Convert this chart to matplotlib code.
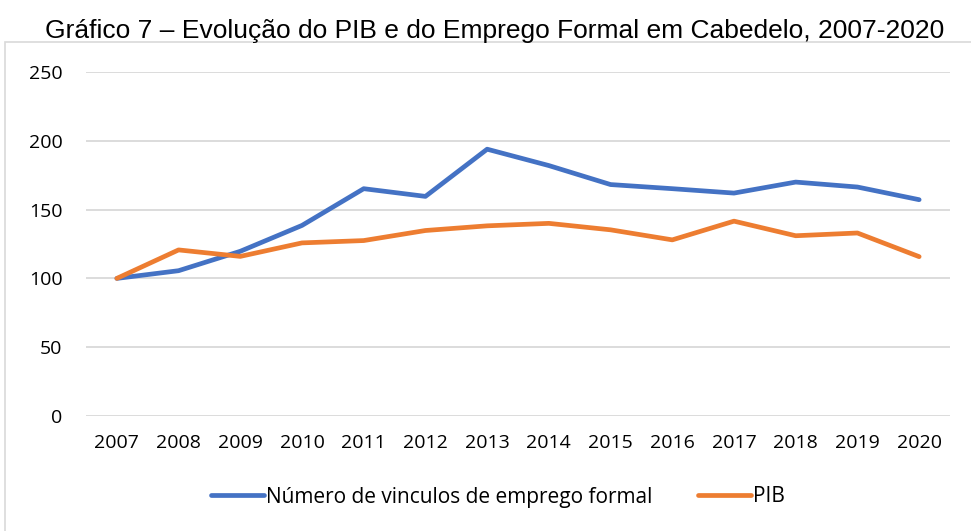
import matplotlib
matplotlib.use("Agg")
import matplotlib.pyplot as plt
from matplotlib.patches import Rectangle

years = ["2007", "2008", "2009", "2010", "2011", "2012", "2013",
         "2014", "2015", "2016", "2017", "2018", "2019", "2020"]
emprego = [100, 105.6, 119.7, 138.5, 165.2, 159.6, 193.9,
           182, 168.2, 165.2, 162, 170, 166.4, 157.2]
pib = [100, 120.7, 116, 125.8, 127.5, 134.8, 138.2,
       140, 135.3, 128, 141.6, 131, 133, 115.8]
yticks = [0, 50, 100, 150, 200, 250]
title = "Gráfico 7 – Evolução do PIB e do Emprego Formal em Cabedelo, 2007-2020"
labels = ["Número de vinculos de emprego formal", "PIB"]

W, H = 971, 531
fig = plt.figure(figsize=(W / 100, H / 100), dpi=100)
fig.patch.set_facecolor("white")

# chart border (only left/top visible in the crop)
fig.add_artist(Rectangle((5 / W, -0.05), 1.1, (H - 41.5) / H + 0.05,
                         transform=fig.transFigure, fill=False,
                         edgecolor="#D9D9D9", lw=1.2))

fig.text(0.5 * (42 + 948) / W, (H - 38) / H, title, ha="center", va="baseline",
         fontsize=19, family="Liberation Sans", color="black")

ax = fig.add_axes([86 / W, (H - 416) / H, (950 - 86) / W, (416 - 72) / H])
x = list(range(len(years)))
l1, = ax.plot(x, emprego, color="#4472C4", lw=3.4, solid_capstyle="round",
              solid_joinstyle="round")
l2, = ax.plot(x, pib, color="#ED7D31", lw=3.4, solid_capstyle="round",
              solid_joinstyle="round")
ax.set_xlim(-0.5, len(years) - 0.5)
ax.set_ylim(0, 250)
ax.set_yticks(yticks)
ax.set_yticklabels([str(v) for v in yticks])
ax.set_xticks(x)
ax.set_xticklabels(years)
ax.grid(axis="y", color="#D9D9D9", lw=1.3)
ax.set_axisbelow(True)
for s in ax.spines.values():
    s.set_visible(False)
ax.tick_params(axis="both", length=0, labelsize=14, colors="black")
ax.tick_params(axis="y", pad=17)
ax.tick_params(axis="x", pad=13)
for t in ax.get_xticklabels() + ax.get_yticklabels():
    t.set_family("Open Sans")

leg = ax.legend([l1, l2], labels, loc="center", ncol=2,
                bbox_to_anchor=(((210 + 786) / 2 - 86) / (950 - 86), -(497 - 416) / (416 - 72)),
                frameon=False, handlelength=2.55, handletextpad=0.1,
                columnspacing=2.2, prop={"family": "Open Sans", "size": 15})
fig.savefig("out.png", dpi=100)
